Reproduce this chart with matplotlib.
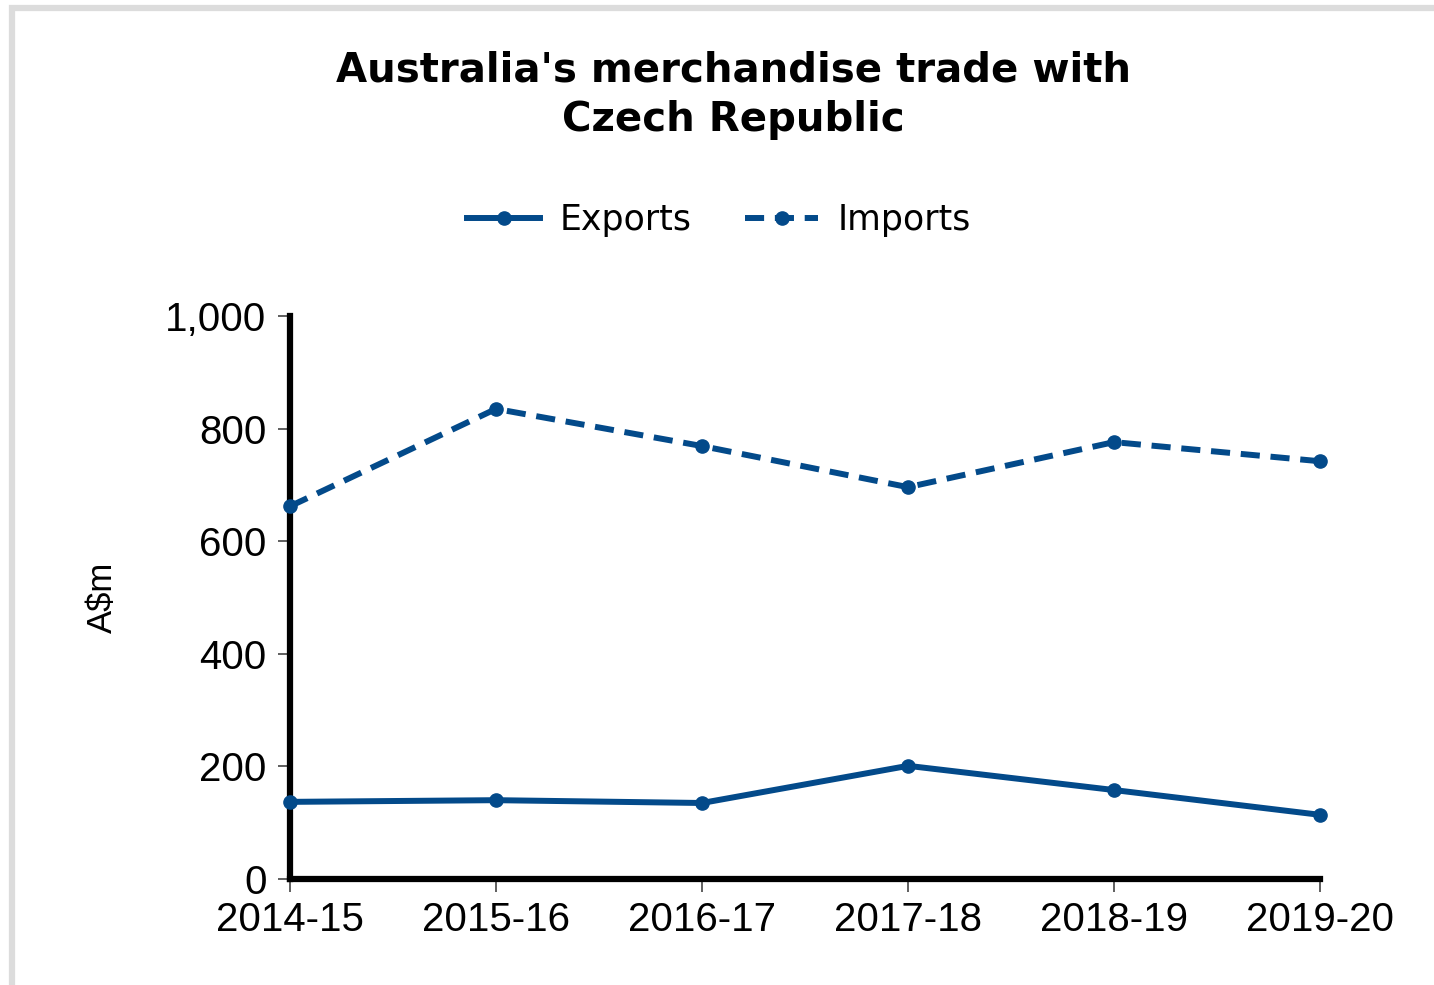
import matplotlib
matplotlib.use("Agg")
import matplotlib.pyplot as plt
from matplotlib.patches import Rectangle
from matplotlib.ticker import FuncFormatter

# data (A$m)
years   = ["2014-15", "2015-16", "2016-17", "2017-18", "2018-19", "2019-20"]
exports = [137, 140, 135, 201, 158, 114]
imports = [662, 835, 769, 696, 776, 742]

blue = "#034a8a"

fig = plt.figure(figsize=(14.34, 9.85), dpi=100)

# light grey frame on top and left edge
fig.patches.append(Rectangle((12/1434, -0.05), 1.2, 1 - 8/985 + 0.05, transform=fig.transFigure,
                             fill=False, edgecolor="#dcdcdc", linewidth=4.5, zorder=0))

ax = fig.add_axes([290/1434, 1 - 879/985, 1030/1434, 563/985])

x = range(len(years))
ax.plot(x, exports, color=blue, lw=4.3, marker="o", ms=9.5, label="Exports", clip_on=False, zorder=3)
ax.plot(x, imports, color=blue, lw=4.3, marker="o", ms=9.5, dashes=(3.2, 1.8),
        label="Imports", clip_on=False, zorder=3)

ax.set_xlim(0, len(years) - 1)
ax.set_ylim(0, 1000)
ax.set_xticks(list(x))
ax.set_xticklabels(years)
ax.set_yticks(range(0, 1001, 200))
ax.yaxis.set_major_formatter(FuncFormatter(lambda v, p: f"{int(v):,}"))

for s in ["top", "right"]:
    ax.spines[s].set_visible(False)
for s in ["left", "bottom"]:
    ax.spines[s].set_linewidth(4.5)
    ax.spines[s].set_color("black")

ax.tick_params(axis="both", length=9, width=1.2, color="#444444", labelsize=29)
ax.tick_params(axis="x", pad=7)
ax.tick_params(axis="y", pad=8)
for lab in ax.get_xticklabels() + ax.get_yticklabels():
    lab.set_family("Liberation Sans")

ax.set_ylabel("A$m", fontsize=25, family="Liberation Sans", labelpad=33)

fig.text(733/1434, 1 - 95/985, "Australia's merchandise trade with\nCzech Republic",
         ha="center", va="center", fontsize=29, fontweight="bold", linespacing=1.3)

fig.legend(loc="center", bbox_to_anchor=(719/1434, 1 - 220/985), ncol=2, frameon=False,
           fontsize=25, handlelength=2.1, columnspacing=1.55, handletextpad=0.55)

fig.savefig("out.png", dpi=100)
